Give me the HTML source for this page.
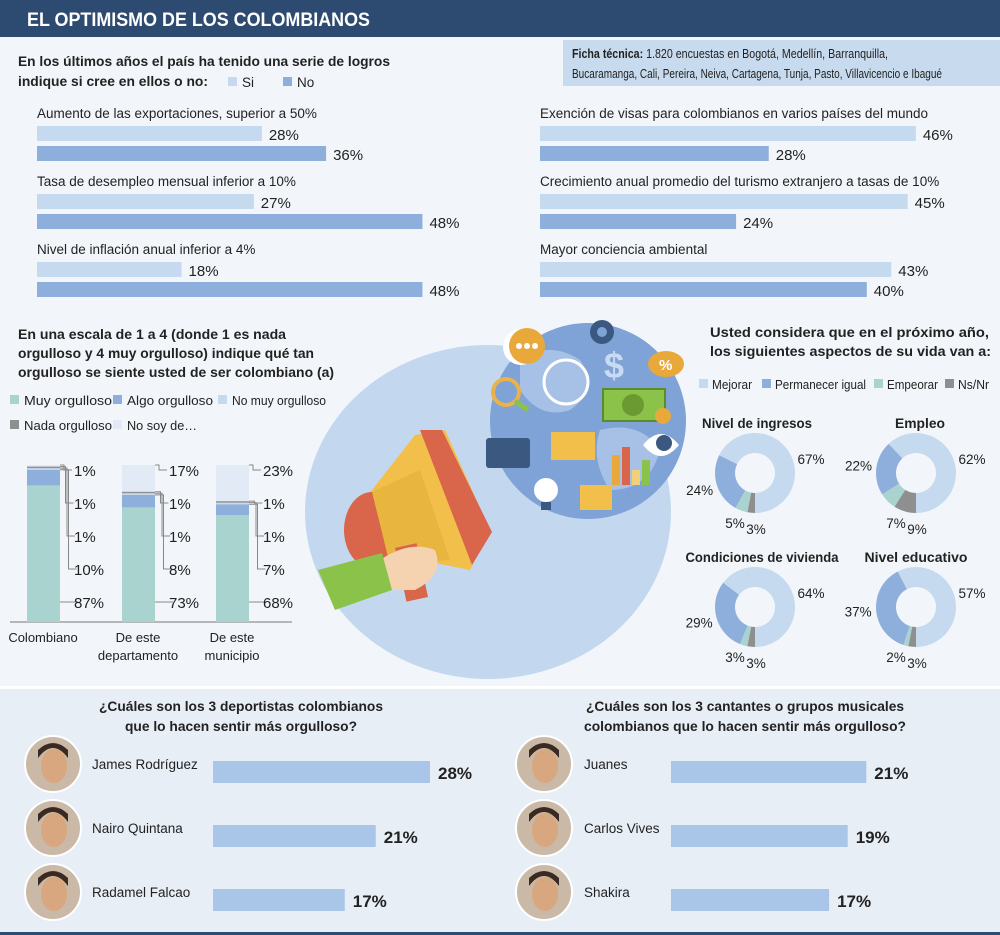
<!DOCTYPE html>
<html><head><meta charset="utf-8">
<style>
html,body{margin:0;padding:0;background:#f2f6fa;}
svg{display:block;font-family:"Liberation Sans",sans-serif;}
.t{font-size:13.5px;fill:#222;}
.lg{font-size:12.5px;fill:#222;}
.b{font-weight:bold;font-size:14px;fill:#222;}
.v{font-size:15px;fill:#222;}
.sm{font-size:12.5px;fill:#222;}
</style></head><body>
<svg id="root" width="1000" height="935" viewBox="0 0 1000 935">
<rect x="0" y="0" width="1000" height="935" fill="#f2f6fa"/>
<rect x="0" y="0" width="1000" height="37" fill="#2d4a71"/>
<text x="27" y="26" fill="#fff" textLength="343" lengthAdjust="spacingAndGlyphs" style="font-weight:bold;font-size:19px">EL OPTIMISMO DE LOS COLOMBIANOS</text>

<text x="18" y="66" class="b" textLength="372" lengthAdjust="spacingAndGlyphs">En los últimos años el país ha tenido una serie de logros</text>
<text x="18" y="86" class="b" textLength="190" lengthAdjust="spacingAndGlyphs">indique si cree en ellos o no:</text>
<rect x="228" y="77" width="9" height="9" fill="#c5d9ef"/>
<text x="242" y="87" class="t">Si</text>
<rect x="283" y="77" width="9" height="9" fill="#8eaedc"/>
<text x="297" y="87" class="t">No</text>

<rect x="563" y="40" width="437" height="46" fill="#c8dbee"/>
<text x="572" y="58" class="sm" textLength="316" lengthAdjust="spacingAndGlyphs"><tspan font-weight="bold">Ficha técnica:</tspan> 1.820 encuestas en Bogotá, Medellín, Barranquilla,</text>
<text x="572" y="78" class="sm" textLength="370" lengthAdjust="spacingAndGlyphs">Bucaramanga, Cali, Pereira, Neiva, Cartagena, Tunja, Pasto, Villavicencio e Ibagué</text>

<g id="logros"></g>

<text x="18" y="339" class="b" textLength="268" lengthAdjust="spacingAndGlyphs">En una escala de 1 a 4 (donde 1 es nada</text>
<text x="18" y="358" class="b" textLength="296" lengthAdjust="spacingAndGlyphs">orgulloso y 4 muy orgulloso) indique qué tan</text>
<text x="18" y="377" class="b" textLength="316" lengthAdjust="spacingAndGlyphs">orgulloso se siente usted de ser colombiano (a)</text>
<g id="orgLegend"></g>

<g>
<ellipse cx="488" cy="512" rx="183" ry="167" fill="#c3d8ef"/>
<circle cx="588" cy="421" r="98" fill="#7fa3d6"/>
<path d="M520 360 q30 -20 60 0 q20 30 -10 50 q-30 10 -50 -20z M600 430 q40 -10 60 20 q-10 40 -50 40 q-20 -30 -10 -60z" fill="#a7c1e6"/>
<circle cx="521" cy="347" r="18" fill="#fff"/><circle cx="527" cy="346" r="18" fill="#e9a93a"/>
<circle cx="519" cy="346" r="3" fill="#fff"/><circle cx="527" cy="346" r="3" fill="#fff"/><circle cx="535" cy="346" r="3" fill="#fff"/>
<circle cx="566" cy="382" r="22" fill="none" stroke="#fff" stroke-width="3"/>
<circle cx="506" cy="392" r="13" fill="none" stroke="#e9b24a" stroke-width="4"/><line x1="515" y1="401" x2="528" y2="410" stroke="#8bc34a" stroke-width="5"/>
<text x="604" y="378" fill="#c9dbf2" font-size="36" font-weight="bold">$</text>
<rect x="603" y="389" width="62" height="32" fill="#8bc34a" stroke="#5d8a2a" stroke-width="2"/><circle cx="633" cy="405" r="11" fill="#6b9a33"/>
<circle cx="663" cy="416" r="8" fill="#e9a93a"/>
<ellipse cx="666" cy="364" rx="18" ry="13" fill="#e9a93a"/><text x="659" y="370" fill="#fff" font-size="15" font-weight="bold">%</text>
<circle cx="602" cy="332" r="12" fill="#3b5980"/><circle cx="602" cy="332" r="5" fill="#7fa3d6"/>
<rect x="486" y="438" width="44" height="30" rx="3" fill="#3b5980"/>
<rect x="551" y="432" width="44" height="28" fill="#f2c04a"/>
<path d="M643 445 q18 -22 36 0 q-18 22 -36 0z" fill="#fff"/><circle cx="664" cy="443" r="8" fill="#3b5980"/>
<rect x="612" y="455" width="8" height="30" fill="#e9a93a"/><rect x="622" y="447" width="8" height="38" fill="#d9654b"/><rect x="632" y="470" width="8" height="15" fill="#f2d07a"/><rect x="642" y="460" width="8" height="25" fill="#8bc34a"/>
<circle cx="546" cy="490" r="12" fill="#fff"/><rect x="541" y="502" width="10" height="8" fill="#3b5980"/>
<rect x="580" y="485" width="32" height="25" fill="#f2c04a"/>
<polygon points="415,435 445,430 490,530 470,570 420,560 360,500 372,490" fill="#f2c04a"/>
<polygon points="420,430 442,430 492,532 472,565" fill="#d9654b"/>
<ellipse cx="372" cy="530" rx="28" ry="38" fill="#d9654b"/>
<polygon points="372,492 420,470 450,560 390,565" fill="#e8b53e"/>
<rect x="400" y="545" width="22" height="55" fill="#d9654b" transform="rotate(-12 411 570)"/>
<path d="M380 560 q30 -20 55 -10 q10 25 -20 40 l-25 0z" fill="#f5d2b0"/>
<polygon points="318,570 382,553 392,590 335,610" fill="#8bc34a"/>
</g>

<text x="710" y="337" class="b" textLength="279" lengthAdjust="spacingAndGlyphs">Usted considera que en el próximo año,</text>
<text x="710" y="356" class="b" textLength="281" lengthAdjust="spacingAndGlyphs">los siguientes aspectos de su vida van a:</text>
<g id="donutLegend"></g>
<g id="donuts"></g>

<g id="stack"></g>

<rect x="0" y="688" width="1000" height="247" fill="#e7eef6"/>
<rect x="0" y="686" width="1000" height="3" fill="#fff"/>
<text x="241" y="711" class="b" text-anchor="middle" textLength="284" lengthAdjust="spacingAndGlyphs">¿Cuáles son los 3 deportistas colombianos</text>
<text x="241" y="731" class="b" text-anchor="middle" textLength="232" lengthAdjust="spacingAndGlyphs">que lo hacen sentir más orgulloso?</text>
<text x="745" y="711" class="b" text-anchor="middle" textLength="318" lengthAdjust="spacingAndGlyphs">¿Cuáles son los 3 cantantes o grupos musicales</text>
<text x="745" y="731" class="b" text-anchor="middle" textLength="322" lengthAdjust="spacingAndGlyphs">colombianos que lo hacen sentir más orgulloso?</text>
<g id="bottom"></g>
<rect x="0" y="932" width="1000" height="3" fill="#2d4a71"/>
</svg>
<script>
const NS="http://www.w3.org/2000/svg";
function mk(p,tag,attrs,txt){const e=document.createElementNS(NS,tag);for(const k in attrs)e.setAttribute(k,attrs[k]);if(txt!==undefined)e.textContent=txt;p.appendChild(e);return e;}
const C_SI="#c5d9ef",C_NO="#8eaedc",C_TEAL="#a9d3cf",C_GRAY="#8f8f8f",C_NOSOY="#e2ebf5";

const logrosLeftLabels=["Aumento de las exportaciones, superior a 50%","Tasa de desempleo mensual inferior a 10%","Nivel de inflación anual inferior a 4%"];
const logrosLeftSi=[28,27,18];
const logrosLeftNo=[36,48,48];
const logrosRightLabels=["Exención de visas para colombianos en varios países del mundo","Crecimiento anual promedio del turismo extranjero a tasas de 10%","Mayor conciencia ambiental"];
const logrosRightSi=[46,45,43];
const logrosRightNo=[28,24,40];

const lg=document.getElementById('logros');
function logrosBlock(x0,scale,labels,si,no){
  labels.forEach((lab,i)=>{
    const y=113+i*68;
    const t=mk(lg,'text',{x:x0,y:y+5,class:'t'},lab);
    
    
    [[si[i],C_SI,y+13],[no[i],C_NO,y+33]].forEach(([v,c,yy])=>{
      const w=v*scale;
      const r=mk(lg,'rect',{x:x0,y:yy,width:w,height:15,fill:c});
      
      
      const tv=mk(lg,'text',{x:x0+w+7,y:yy+14,class:'v'},v+'%');
      
      
    });
  });
}
logrosBlock(37,8.03,logrosLeftLabels,logrosLeftSi,logrosLeftNo);
logrosBlock(540,8.17,logrosRightLabels,logrosRightSi,logrosRightNo);

const orgCats=["Muy orgulloso","Algo orgulloso","No muy orgulloso","Nada orgulloso","No soy de…"];
const orgColors=[C_TEAL,C_NO,C_SI,C_GRAY,C_NOSOY];
const ol=document.getElementById('orgLegend');
const olPos=[[10,405],[113,405],[218,405],[10,430],[113,430]];
const olW=[88,86,94,88,70];
orgCats.forEach((c,i)=>{
  const r=mk(ol,'rect',{x:olPos[i][0],y:olPos[i][1]-10,width:9,height:9,fill:orgColors[i]});
  
  
  const t=mk(ol,'text',{x:olPos[i][0]+14,y:olPos[i][1],class:'lg',textLength:olW[i],lengthAdjust:'spacingAndGlyphs'},c);
  
  
});

const stackGroups=["Colombiano","De este|departamento","De este|municipio"];
const sMuy=[87,73,68];
const sAlgo=[10,8,7];
const sNoMuy=[1,1,1];
const sNada=[1,1,1];
const sNoSoy=[1,17,23];
const sg=document.getElementById('stack');
const base=622,ph=157/100,bw=33,gx=[27,122,216];
mk(sg,'line',{x1:10,y1:base,x2:292,y2:base,stroke:'#777','stroke-width':1});
const labelY=[607,574,541,508,475];
stackGroups.forEach((g,i)=>{
  const vals=[sMuy[i],sAlgo[i],sNoMuy[i],sNada[i],sNoSoy[i]];
  let y=base;const tops=[];
  vals.forEach((v,k)=>{
    const h=v*ph;y-=h;
    const r=mk(sg,'rect',{x:gx[i],y:y,width:bw,height:h,fill:orgColors[k]});
    
    
    tops.push(y);
  });
  vals.forEach((v,k)=>{
    const lx=gx[i]+bw, ly=labelY[k], kx=gx[i]+bw+4+(4-k)*1.5;
    const yy=k==0?ly-5:tops[k];
    mk(sg,'polyline',{points:`${lx},${yy} ${kx},${yy} ${kx},${ly-5} ${kx+8},${ly-5}`,fill:'none',stroke:'#888','stroke-width':1});
    const t=mk(sg,'text',{x:gx[i]+bw+14,y:ly+1,class:'v'},v+'%');
    
    
  });
  g.split('|').forEach((ln,j)=>{
    const t=mk(sg,'text',{x:gx[i]+16,y:642+j*18,'font-size':'13',fill:'#222','text-anchor':'middle'},ln);
    
    
  });
});

const donutCats=["Mejorar","Permanecer igual","Empeorar","Ns/Nr"];
const donutColors=[C_SI,C_NO,C_TEAL,C_GRAY];
const donutTitles=["Nivel de ingresos","Empleo","Condiciones de vivienda","Nivel educativo"];
const dMejorar=[67,62,64,57];
const dPermanecer=[24,22,29,37];
const dEmpeorar=[5,7,3,2];
const dNsnr=[3,9,3,3];
const dl=document.getElementById('donutLegend');
const dlx=[699,762,874,945];
const dlw=[40,91,51,31];
donutCats.forEach((c,i)=>{
  const r=mk(dl,'rect',{x:dlx[i],y:379,width:9,height:9,fill:donutColors[i]});
  
  
  const t=mk(dl,'text',{x:dlx[i]+13,y:389,class:'lg',textLength:dlw[i],lengthAdjust:'spacingAndGlyphs'},c);
  
  
});
const dg=document.getElementById('donuts');
const centers=[[755,473],[916,473],[755,607],[916,607]];
const titleX=[757,920,762,916];
const titleW=[110,50,153,103];
donutTitles.forEach((tt,i)=>{
  const [cx,cy]=centers[i];
  const t=mk(dg,'text',{x:titleX[i],y:cy-45,class:'b','text-anchor':'middle',textLength:titleW[i],lengthAdjust:'spacingAndGlyphs'},tt);
  
  
  const vals=[dMejorar[i],dPermanecer[i],dEmpeorar[i],dNsnr[i]];
  const tot=vals.reduce((a,b)=>a+b,0);
  const R=40,r0=20;
  let a=0;
  vals.forEach((v,k)=>{
    const a0=a,a1=a+v/tot*2*Math.PI;a=a1;
    const pt=(ang,rr)=>[cx+rr*Math.sin(ang),cy+rr*Math.cos(ang)];
    const large=(a1-a0)>Math.PI?1:0;
    const p1=pt(a0,R),p2=pt(a1,R),p3=pt(a1,r0),p4=pt(a0,r0);
    const d=`M${p1} A${R},${R} 0 ${large} 0 ${p2} L${p3} A${r0},${r0} 0 ${large} 1 ${p4}Z`;
    const s=mk(dg,'path',{d:d,fill:donutColors[k]});
    
    
    const mid=(a0+a1)/2;
    let [lx,ly]=pt(mid,k<2?58:48);
    if(k==0){lx=cx+56;ly=cy-14;}
    if(k==1){lx=Math.min(lx,cx-55);}
    if(k==2){lx=cx-20;ly=cy+50;}
    if(k==3){lx=cx+1;ly=cy+56;}
    const tv=mk(dg,'text',{x:lx,y:ly+5,class:'t','text-anchor':'middle'},v+'%');
    
    
  });
});

const sportNames=["James Rodríguez","Nairo Quintana","Radamel Falcao"];
const sportVals=[28,21,17];
const musicNames=["Juanes","Carlos Vives","Shakira"];
const musicVals=[21,19,17];
const bg=document.getElementById('bottom');
function bottomBlock(px,nx,bx,scale,names,vals){
  names.forEach((n,i)=>{
    const cy=764+i*64;
    const c=mk(bg,'circle',{cx:px,cy:cy,r:28,fill:'#c9b9a6',stroke:'#fff','stroke-width':2});
    
    
    mk(bg,'ellipse',{cx:px+1,cy:cy+2,rx:13,ry:17,fill:'#d9a77f'});
    mk(bg,'path',{d:`M${px-15} ${cy-6} q15 -20 30 0 l0 -8 q-15 -14 -30 0z`,fill:'#3a2a22'});
    const t=mk(bg,'text',{x:nx,y:cy+5,class:'t'},n);
    
    
    const w=vals[i]*scale;
    const r=mk(bg,'rect',{x:bx,y:cy-3,width:w,height:22,fill:'#a9c6e8'});
    
    
    const tv=mk(bg,'text',{x:bx+w+8,y:cy+15,'font-size':'17','font-weight':'bold',fill:'#222'},vals[i]+'%');
    
    
  });
}
bottomBlock(53,92,213,7.75,sportNames,sportVals);
bottomBlock(544,584,671,9.3,musicNames,musicVals);
</script>
</body></html>
